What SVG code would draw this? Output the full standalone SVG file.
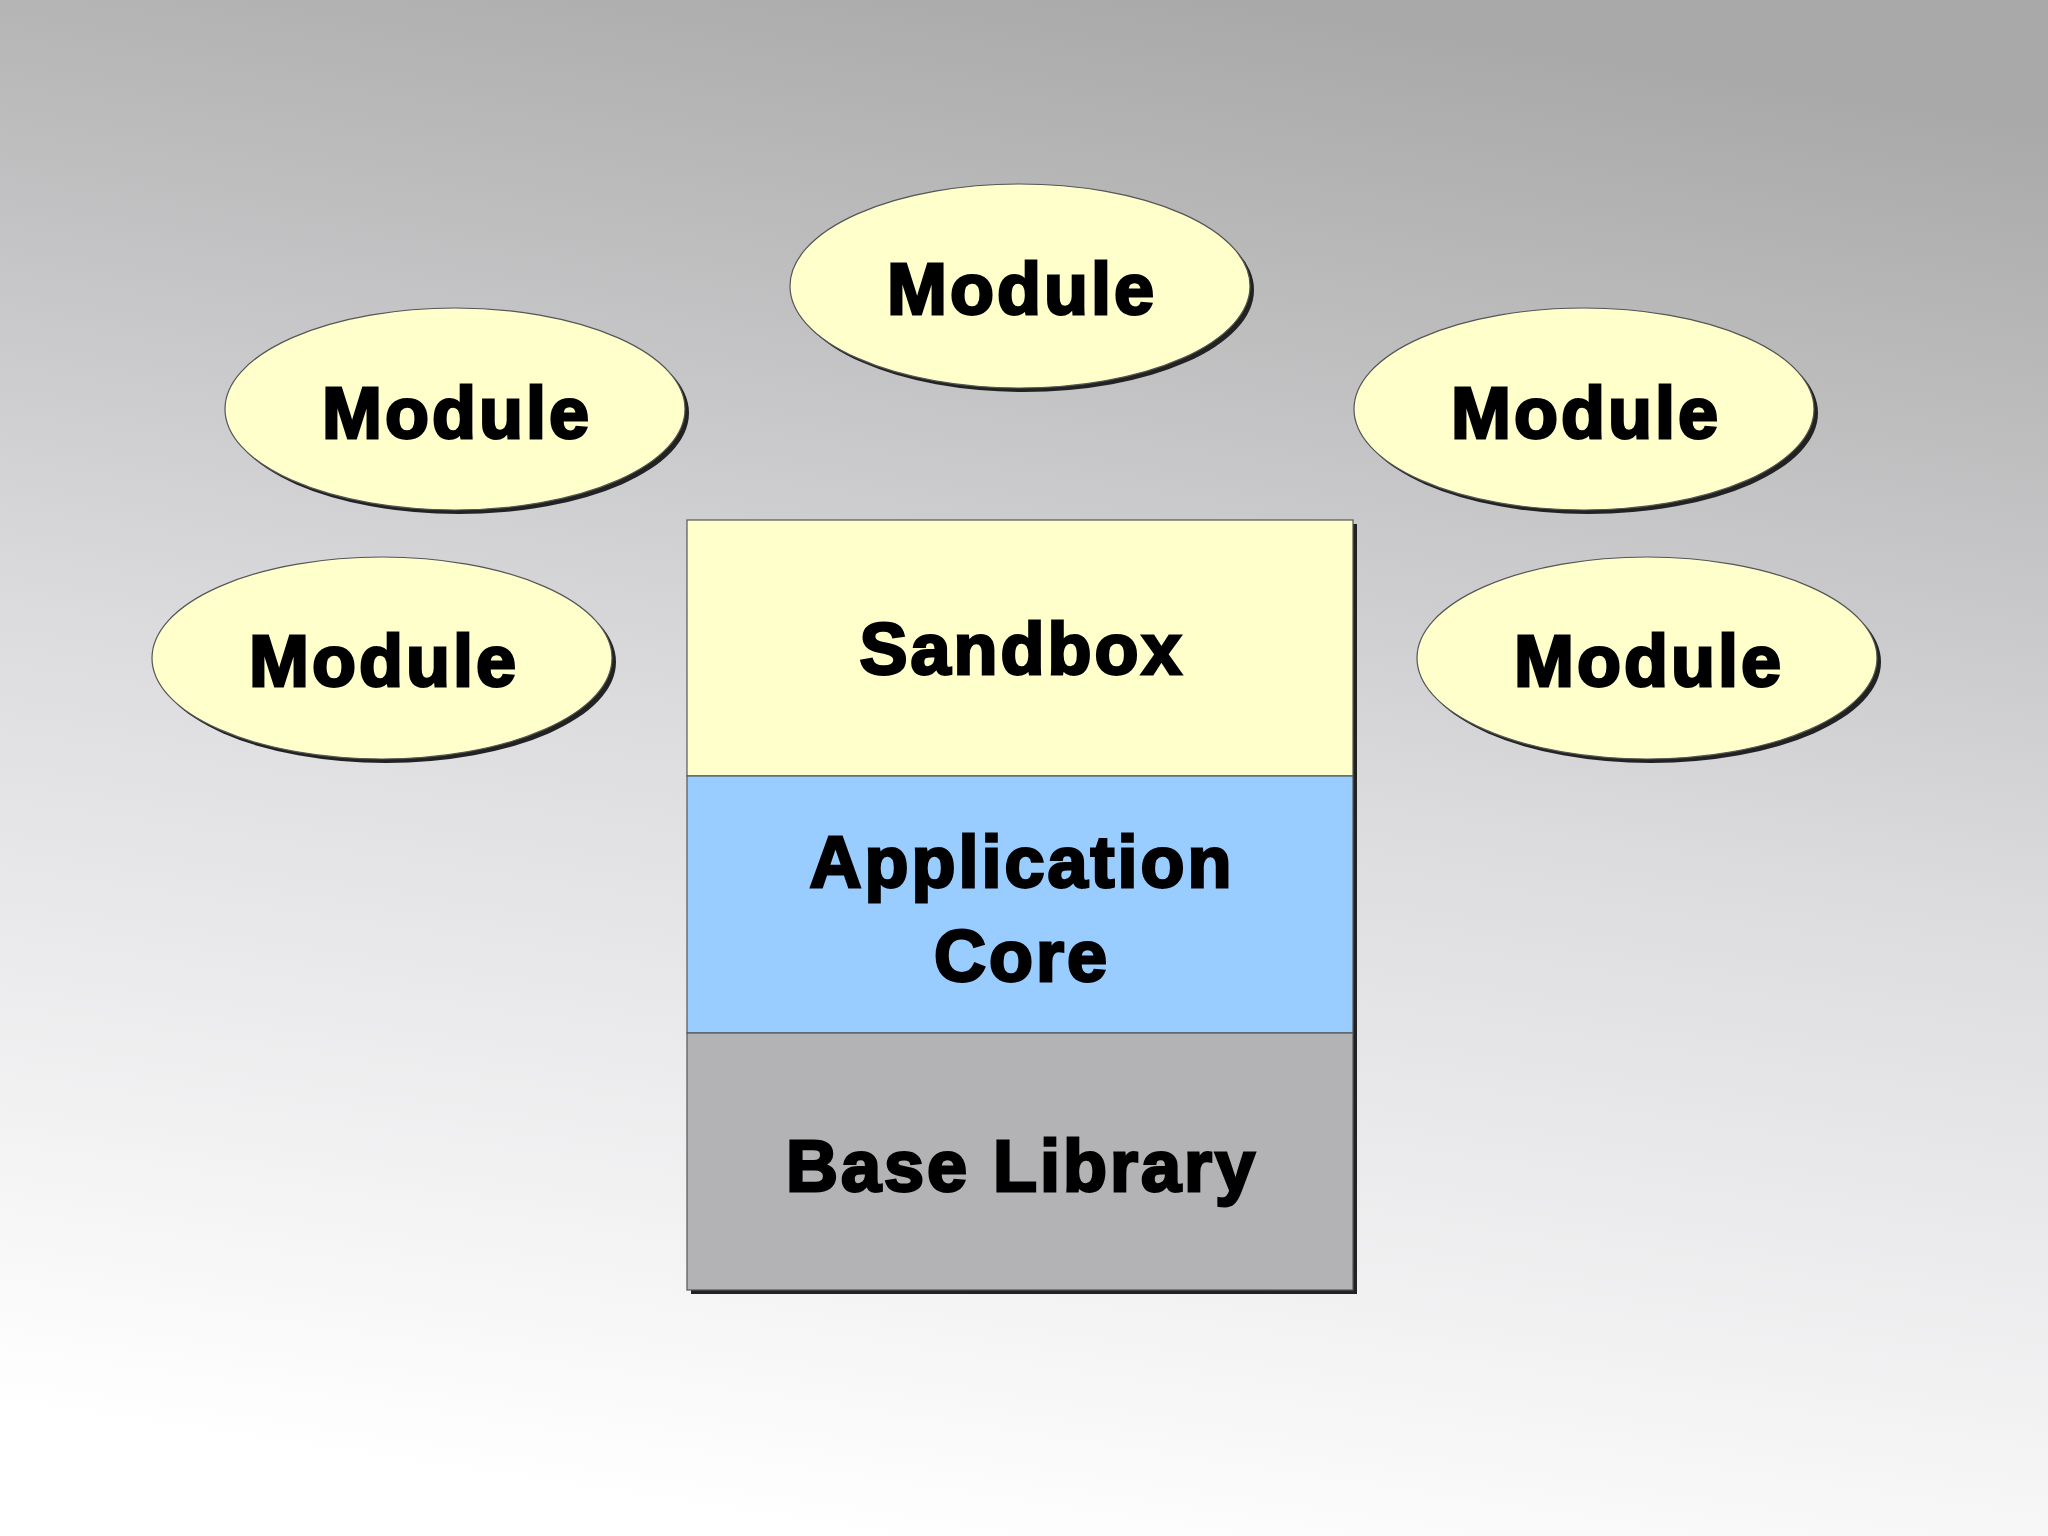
<svg xmlns="http://www.w3.org/2000/svg" width="2048" height="1536" viewBox="0 0 2048 1536">
<defs>
<linearGradient id="bg" x1="0.6" y1="0" x2="0.4" y2="1">
<stop offset="0" stop-color="#a9a9a9"/>
<stop offset="0.5" stop-color="#dcdcdf"/>
<stop offset="1" stop-color="#ffffff"/>
</linearGradient>
</defs>
<style>
.sh{fill:#222;}
.ell{fill:#ffffcc;stroke:#555;stroke-width:1.2;}
.lay{stroke:#555;stroke-width:1.2;}
.t{font-family:"Liberation Sans",Arial,sans-serif;font-weight:bold;font-size:72px;letter-spacing:3px;fill:#000;stroke:#000;stroke-width:2.8;text-anchor:middle;}
</style>
<rect width="2048" height="1536" fill="url(#bg)"/>
<g id="connectors"></g>
<g id="module-top">
<ellipse class="sh" cx="1024" cy="290" rx="230" ry="102"/>
<ellipse class="ell" cx="1020" cy="286" rx="230" ry="102"/>
<text class="t" x="1022" y="314">Module</text>
</g>
<g id="module-upper-left">
<ellipse class="sh" cx="459" cy="413" rx="230" ry="101"/>
<ellipse class="ell" cx="455" cy="409" rx="230" ry="101"/>
<text class="t" x="457" y="438">Module</text>
</g>
<g id="module-upper-right">
<ellipse class="sh" cx="1588" cy="413" rx="230" ry="101"/>
<ellipse class="ell" cx="1584" cy="409" rx="230" ry="101"/>
<text class="t" x="1586" y="438">Module</text>
</g>
<g id="module-lower-left">
<ellipse class="sh" cx="386" cy="662" rx="230" ry="101"/>
<ellipse class="ell" cx="382" cy="658" rx="230" ry="101"/>
<text class="t" x="384" y="686">Module</text>
</g>
<g id="module-lower-right">
<ellipse class="sh" cx="1651" cy="662" rx="230" ry="101"/>
<ellipse class="ell" cx="1647" cy="658" rx="230" ry="101"/>
<text class="t" x="1649" y="686">Module</text>
</g>
<g id="stack-shadow">
<rect class="sh" x="691" y="524" width="666" height="770"/>
</g>
<g id="sandbox">
<rect class="lay" x="687" y="520" width="666" height="256" fill="#ffffcc"/>
<text class="t" x="1022" y="674">Sandbox</text>
</g>
<g id="application-core">
<rect class="lay" x="687" y="776" width="666" height="257" fill="#99ccff"/>
<text class="t" x="1022" y="887">Application</text>
<text class="t" x="1022" y="981">Core</text>
</g>
<g id="base-library">
<rect class="lay" x="687" y="1033" width="666" height="257" fill="#b3b3b6"/>
<text class="t" x="1022" y="1191">Base Library</text>
</g>
</svg>
